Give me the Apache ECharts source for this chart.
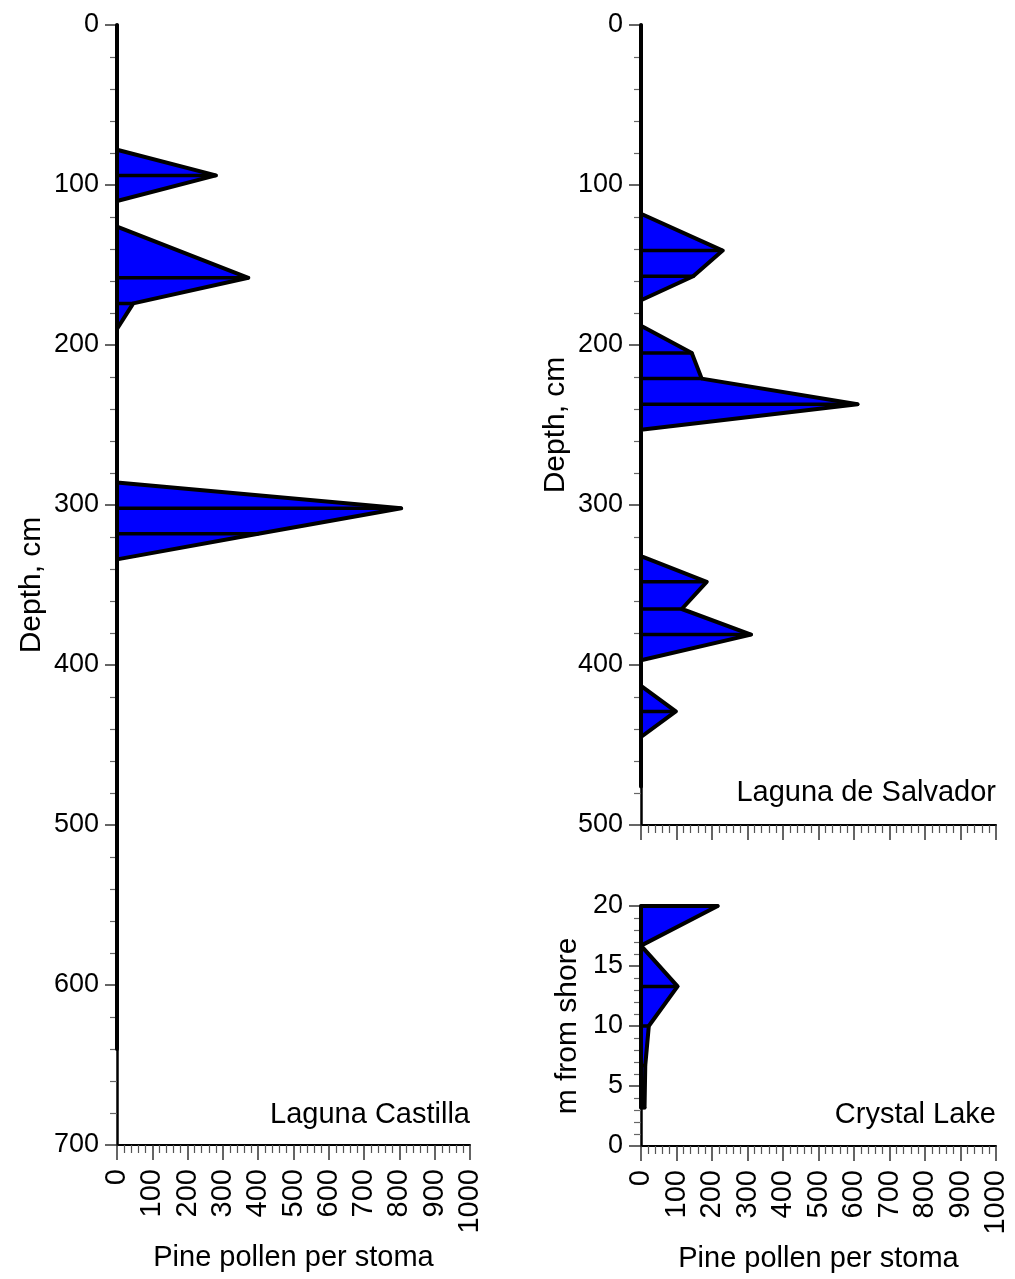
<!DOCTYPE html>
<html>
<head>
<meta charset="utf-8">
<title>Pine pollen per stoma</title>
<script src="https://cdn.jsdelivr.net/npm/echarts@6/dist/echarts.min.js"></script>
<style>
  html, body { margin: 0; padding: 0; background: #fff; }
  #chart { width: 1015px; height: 1279px; }
</style>
</head>
<body>
<div id="chart"></div>
<script>
// Laguna Castilla: sample depth (cm) and pine pollen per stoma
const castillaDepth = [0, 78, 94, 110, 126, 158, 174, 190, 286, 302, 318, 334, 640];
const castillaValue = [0, 0, 280, 0, 0, 372, 46, 0, 0, 805, 400, 0, 0];

// Laguna de Salvador: sample depth (cm) and pine pollen per stoma
const salvadorDepth = [0, 118, 141, 157, 172, 188, 205, 221, 237, 253, 332, 348, 365, 381, 397, 413, 429, 445, 476];
const salvadorValue = [0, 0, 230, 147, 0, 0, 143, 171, 610, 0, 0, 185, 115, 310, 0, 0, 98, 0, 0];

// Crystal Lake: distance from shore (m) and pine pollen per stoma
const crystalDist = [20, 16.7, 13.3, 10, 6.7, 3.2];
const crystalValue = [216, 0, 103, 22, 12, 10];

// Axis tick values
const pollenTicks = [0, 100, 200, 300, 400, 500, 600, 700, 800, 900, 1000];
const castillaTicks = [0, 100, 200, 300, 400, 500, 600, 700];
const salvadorTicks = [0, 100, 200, 300, 400, 500];
const crystalTicks = [0, 5, 10, 15, 20];

const FONT = 'Liberation Sans, Arial, Helvetica, sans-serif';
const FILL = '#0000ff';

function xAxisFor(gridIndex, ticks, showLabels, name) {
  return {
    type: 'value', gridIndex,
    min: ticks[0], max: ticks[ticks.length - 1], interval: ticks[1] - ticks[0],
    axisLine: { show: true, onZero: false, lineStyle: { color: '#000', width: 2 } },
    axisTick: { show: true, inside: false, length: 15, lineStyle: { color: '#333', width: 1.5 } },
    minorTick: { show: true, splitNumber: 5, length: 8, lineStyle: { color: '#555', width: 1.2 } },
    splitLine: { show: false },
    minorSplitLine: { show: false },
    axisLabel: {
      show: showLabels, rotate: 90, margin: 24, fontSize: 29, color: '#000',
      fontFamily: FONT, showMinLabel: true, showMaxLabel: true, hideOverlap: false,
      formatter: v => String(v)
    },
    name: name, nameLocation: 'middle', nameGap: 98,
    nameTextStyle: { fontSize: 29, color: '#000', fontFamily: FONT }
  };
}

function yAxisFor(gridIndex, ticks, inverse, name, nameGap) {
  return {
    type: 'value', gridIndex, inverse,
    min: ticks[0], max: ticks[ticks.length - 1], interval: ticks[1] - ticks[0],
    axisLine: { show: true, onZero: false, lineStyle: { color: '#000', width: 2.5 } },
    axisTick: { show: true, inside: false, length: 12, lineStyle: { color: '#333', width: 1.5 } },
    minorTick: { show: true, splitNumber: 5, length: 7, lineStyle: { color: '#666', width: 1.2 } },
    splitLine: { show: false },
    minorSplitLine: { show: false },
    axisLabel: {
      margin: 18, fontSize: 27, color: '#000', fontFamily: FONT,
      showMinLabel: true, showMaxLabel: true, formatter: v => String(v)
    },
    name: name, nameLocation: 'middle', nameGap: nameGap, nameRotate: 90,
    nameTextStyle: { fontSize: 30, color: '#000', fontFamily: FONT }
  };
}

// Filled pollen profile: polygon closed back onto the zero line
function profileFill(gridIndex, depths, values) {
  const pts = depths.map((d, i) => [values[i], d]);
  return {
    type: 'custom', xAxisIndex: gridIndex, yAxisIndex: gridIndex,
    data: pts, z: 3, silent: true,
    renderItem: function (params, api) {
      if (params.dataIndex !== 0) return null;
      const ring = [[0, depths[0]]].concat(pts, [[0, depths[depths.length - 1]]]);
      return {
        type: 'polygon',
        shape: { points: ring.map(p => api.coord(p)) },
        style: { fill: FILL, stroke: '#000', lineWidth: 4, lineJoin: 'round' }
      };
    }
  };
}

// Horizontal bar from the axis to each non-zero sample
function sampleLines(gridIndex, depths, values) {
  const pts = [];
  depths.forEach((d, i) => { if (values[i] > 0) pts.push([values[i], d]); });
  return {
    type: 'custom', xAxisIndex: gridIndex, yAxisIndex: gridIndex,
    data: pts, z: 4, silent: true,
    renderItem: function (params, api) {
      const v = api.value(0), d = api.value(1);
      const a = api.coord([0, d]), b = api.coord([v, d]);
      return {
        type: 'line',
        shape: { x1: a[0], y1: a[1], x2: b[0], y2: b[1] },
        style: { stroke: '#000', lineWidth: 3.5, lineCap: 'round' }
      };
    }
  };
}

const chart = echarts.init(document.getElementById('chart'), null, { renderer: 'canvas' });

chart.setOption({
  animation: false,
  backgroundColor: '#fff',
  grid: [
    { left: 117, top: 25, width: 353, height: 1120 },
    { left: 641, top: 25, width: 355, height: 800 },
    { left: 641, top: 906, width: 355, height: 240 }
  ],
  xAxis: [
    xAxisFor(0, pollenTicks, true, 'Pine pollen per stoma'),
    xAxisFor(1, pollenTicks, false, ''),
    xAxisFor(2, pollenTicks, true, 'Pine pollen per stoma')
  ],
  yAxis: [
    yAxisFor(0, castillaTicks, true, 'Depth, cm', 70),
    yAxisFor(1, salvadorTicks, true, 'Depth, cm', 70),
    yAxisFor(2, crystalTicks, false, 'm from shore', 58)
  ],
  graphic: [
    { type: 'text', right: 1015 - 470, top: 1100, style: { text: 'Laguna Castilla', fontSize: 29, fontFamily: FONT, fill: '#000' } },
    { type: 'text', right: 1015 - 996, top: 778, style: { text: 'Laguna de Salvador', fontSize: 29, fontFamily: FONT, fill: '#000' } },
    { type: 'text', right: 1015 - 996, top: 1100, style: { text: 'Crystal Lake', fontSize: 29, fontFamily: FONT, fill: '#000' } }
  ],
  series: [
    profileFill(0, castillaDepth, castillaValue),
    sampleLines(0, castillaDepth, castillaValue),
    profileFill(1, salvadorDepth, salvadorValue),
    sampleLines(1, salvadorDepth, salvadorValue),
    profileFill(2, crystalDist, crystalValue),
    sampleLines(2, crystalDist, crystalValue)
  ]
});
</script>
</body>
</html>
